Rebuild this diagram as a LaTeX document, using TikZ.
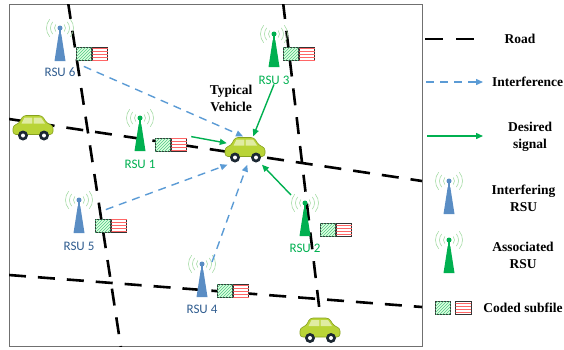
\documentclass[tikz,border=0pt]{standalone}
\usepackage{fontspec}
\setmainfont{Liberation Serif}
\newfontfamily\rsufont{Carlito}
\usetikzlibrary{arrows.meta,patterns,positioning}
\definecolor{clIntf}{HTML}{5B9BD5}
\definecolor{clIntfRsu}{HTML}{5A8DC4}
\definecolor{clIntfText}{HTML}{2F5C8F}
\definecolor{clAssoc}{HTML}{00B050}
\definecolor{clWave}{HTML}{A6DCA6}
\definecolor{clFrame}{HTML}{707070}
\definecolor{clCar}{HTML}{B9D437}
\definecolor{clCarLine}{HTML}{86A11E}
\definecolor{clGlass}{HTML}{E0ECA2}
\definecolor{clWheel}{HTML}{1C2833}
\tikzset{
  road/.style={line width=2.6pt, dash pattern=on 17pt off 12pt},
  interf/.style={-{Triangle[length=7pt,width=6pt]}, line width=1.4pt, draw=clIntf,
                 dash pattern=on 8pt off 6pt},
  desired/.style={-{Triangle[length=7pt,width=6pt]}, line width=1.4pt, draw=clAssoc},
  rsulabel/.style={font=\rsufont\fontsize{13}{15}\selectfont, inner sep=0pt},
  legtext/.style={font=\fontsize{13.5}{17}\selectfont\bfseries, align=center, inner sep=0pt},
  codeA/.style={draw=black!80, line width=0.8pt, inner sep=0pt, minimum width=15.5pt,
                minimum height=13pt, fill=green!12,
                postaction={pattern=north east lines, pattern color=clAssoc!70}},
  codeB/.style={draw=black!80, line width=0.8pt, inner sep=0pt, minimum width=15.5pt,
                minimum height=13pt, fill=white,
                postaction={pattern=horizontal lines, pattern color=red!60}},
  carbox/.style={inner sep=0pt, minimum width=36pt, minimum height=28pt},
  pics/rsu/.style={code={
    \foreach \r in {5.5,9.5,13.5}{
      \draw[clWave, line width=0.6pt] (140:\r) arc (140:220:\r);
      \draw[clWave, line width=0.6pt] (-40:\r) arc (-40:40:\r);
    }
    \draw[#1, line width=1.2pt] (0,0) -- (0,7);
    \fill[#1] (-1.3,6) -- (1.3,6) -- (5.5,33) -- (-5.5,33) -- cycle;
    \fill[#1] (0,0) circle (2.5);
  }},
  pics/car/.style={code={
    \draw[clCarLine, fill=clCar, line width=0.6pt, rounded corners=3pt]
      (-20,6) -- (-20,-3) -- (-14,-5) -- (-10,-13) -- (9,-13) -- (14,-5) -- (20,-3) -- (20,6) -- cycle;
    \fill[clGlass] (-8.5,-11) -- (-11.5,-5) -- (-0.7,-5) -- (-0.7,-11) -- cycle;
    \fill[clGlass] (0.7,-11) -- (0.7,-5) -- (12,-5) -- (8,-11) -- cycle;
    \foreach \wx in {-10,11}{
      \fill[clWheel] (\wx,7) circle (5);
      \fill[white] (\wx,7) circle (2);
    }
  }},
}

\begin{document}
\begin{tikzpicture}[x=1pt, y=-1pt]
  \useasboundingbox (0,0) rectangle (564,349);
  \draw[clFrame, line width=0.9pt] (9,4) rectangle (422,346);

  % roads
  \begin{scope}
    \clip (9,4) rectangle (422,346);
    \draw[road] (68,2) -- (121,348);
    \draw[road] (283,2) -- (324,348);
    \draw[road] (9,119) -- (422,181);
    \draw[road] (9,275) -- (422,307);
  \end{scope}

  % RSUs
  \coordinate (rsu1) at (140,118);
  \coordinate (rsu2) at (305,203);
  \coordinate (rsu3) at (274,34);
  \coordinate (rsu4) at (202,264);
  \coordinate (rsu5) at (79,200);
  \coordinate (rsu6) at (60,28);
  \pic at (rsu1) {rsu=clAssoc};
  \pic at (rsu2) {rsu=clAssoc};
  \pic at (rsu3) {rsu=clAssoc};
  \pic at (rsu4) {rsu=clIntfRsu};
  \pic at (rsu5) {rsu=clIntfRsu};
  \pic at (rsu6) {rsu=clIntfRsu};
  \node[rsulabel, text=clAssoc] (rsu1lbl) at (140,164) {RSU 1};
  \node[rsulabel, text=clAssoc] (rsu2lbl) at (305,248) {RSU 2};
  \node[rsulabel, text=clAssoc] (rsu3lbl) at (274,80) {RSU 3};
  \node[rsulabel, text=clIntfText] (rsu4lbl) at (202,309) {RSU 4};
  \node[rsulabel, text=clIntfText] (rsu5lbl) at (79,246) {RSU 5};
  \node[rsulabel, text=clIntfText] (rsu6lbl) at (60,72) {RSU 6};

  % coded subfiles
  \node[codeA] (sub1a) at (162.8,145) {};
  \node[codeB, right=0pt of sub1a] (sub1b) {};
  \node[codeA] (sub2a) at (327.8,229.5) {};
  \node[codeB, right=0pt of sub2a] (sub2b) {};
  \node[codeA] (sub3a) at (290.8,53.5) {};
  \node[codeB, right=0pt of sub3a] (sub3b) {};
  \node[codeA] (sub4a) at (224.8,290.5) {};
  \node[codeB, right=0pt of sub4a] (sub4b) {};
  \node[codeA] (sub5a) at (102.8,226) {};
  \node[codeB, right=0pt of sub5a] (sub5b) {};
  \node[codeA] (sub6a) at (83.8,53.5) {};
  \node[codeB, right=0pt of sub6a] (sub6b) {};

  % vehicles
  \node[carbox] (veh) at (245,150.5) {};
  \node[carbox] (carleft) at (33,128.5) {};
  \node[carbox] (carbottom) at (320,331) {};
  \pic at (veh) {car};
  \pic at (carleft) {car};
  \pic at (carbottom) {car};
  \node[legtext] (vehlbl) at (231,98) {Typical\\Vehicle};

  % links to the typical vehicle
  \draw[interf] ([yshift=-6pt]sub6a.south) -- (veh.98);
  \draw[interf] ([shift={(3pt,9.5pt)}]sub5a.north) -- (veh.219);
  \draw[interf] ([shift={(10pt,2pt)}]rsu4) -- (veh.279);
  \draw[desired] ([shift={(4pt,1.5pt)}]sub1b.north east) -- (veh.158);
  \draw[desired] (rsu3lbl.south) -- (veh.60);
  \draw[desired] ([shift={(-14pt,8pt)}]rsu2) -- (veh.320);

  % legend
  \coordinate (lgroad1) at (425,39);
  \coordinate (lgroad2) at (476,39);
  \draw[road, dash pattern=on 18pt off 13pt] (lgroad1) -- (lgroad2);
  \node[legtext] (lgroad) at (520,39) {Road};
  \coordinate (lgintf1) at (426,82);
  \coordinate (lgintf2) at (483,82);
  \draw[interf] (lgintf1) -- (lgintf2);
  \node[legtext] (lgintf) at (527.5,82) {Interference};
  \coordinate (lgdes1) at (427,136);
  \coordinate (lgdes2) at (483,136);
  \draw[desired] (lgdes1) -- (lgdes2);
  \node[legtext] (lgdes) at (530,136.5) {Desired\\signal};
  \coordinate (lgirsu) at (449,181);
  \pic at (lgirsu) {rsu=clIntfRsu};
  \node[legtext] (lgirsulbl) at (523.5,198) {Interfering\\RSU};
  \coordinate (lgarsu) at (449,240);
  \pic at (lgarsu) {rsu=clAssoc};
  \node[legtext] (lgarsulbl) at (523,255) {Associated\\RSU};
  \node[codeA] (lgsubA) at (443,308) {};
  \node[codeB, right=4pt of lgsubA] (lgsubB) {};
  \node[legtext] (lgsub) at (523,308) {Coded subfile};
\end{tikzpicture}
\end{document}
